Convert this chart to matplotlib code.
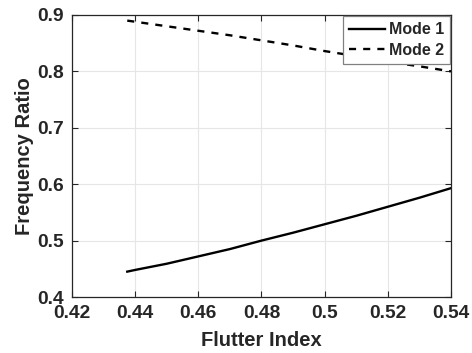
import matplotlib
matplotlib.use("Agg")
import matplotlib.pyplot as plt

flutter_index = [0.4375, 0.44, 0.45, 0.46, 0.47, 0.48, 0.49, 0.50, 0.51, 0.52, 0.53, 0.54]
mode1 = [0.445, 0.448, 0.459, 0.472, 0.485, 0.500, 0.514, 0.529, 0.544, 0.560, 0.576, 0.593]
mode2 = [0.890, 0.888, 0.880, 0.872, 0.864, 0.855, 0.846, 0.836, 0.827, 0.817, 0.809, 0.800]
xticks = [0.42, 0.44, 0.46, 0.48, 0.50, 0.52, 0.54]
xticklabels = ["0.42", "0.44", "0.46", "0.48", "0.5", "0.52", "0.54"]
yticks = [0.4, 0.5, 0.6, 0.7, 0.8, 0.9]
yticklabels = ["0.4", "0.5", "0.6", "0.7", "0.8", "0.9"]

plt.rcParams['font.family'] = ['Liberation Sans', 'DejaVu Sans']
plt.rcParams['font.weight'] = 'bold'

fig = plt.figure(figsize=(4.72, 3.53), dpi=100)
ax = fig.add_axes([0.1525, 0.1586, 0.803, 0.799])

ax.plot(flutter_index, mode1, color='black', lw=1.7, ls='-', label='Mode 1')
ax.plot(flutter_index, mode2, color='black', lw=1.7, ls=(0, (3.0, 3.0)), label='Mode 2')

ax.set_xlim(0.42, 0.54)
ax.set_ylim(0.4, 0.9)
ax.set_xticks(xticks)
ax.set_xticklabels(xticklabels)
ax.set_yticks(yticks)
ax.set_yticklabels(yticklabels)
ax.tick_params(direction='in', length=4, width=0.8, top=True, right=True,
               labelsize=13.8, pad=6, color='#262626')
for lab in ax.get_xticklabels() + ax.get_yticklabels():
    lab.set_fontweight('bold')
    lab.set_color('#262626')
ax.grid(True, color='#e6e6e6', lw=0.8)
ax.set_axisbelow(True)
for s in ax.spines.values():
    s.set_linewidth(0.9)
    s.set_color('#262626')

ax.set_xlabel('Flutter Index', fontsize=14.5, fontweight='bold', color='#262626', labelpad=6)
ax.set_ylabel('Frequency Ratio', fontsize=14.5, fontweight='bold', color='#262626', labelpad=2)

leg = ax.legend(loc='upper right', fontsize=11.5, frameon=True, fancybox=False,
                handlelength=2.2, handletextpad=0.25, borderpad=0.4, labelspacing=0.35,
                borderaxespad=0.05)
leg.get_frame().set_edgecolor('#808080')
leg.get_frame().set_linewidth(0.9)
leg.get_frame().set_alpha(1)
for t in leg.get_texts():
    t.set_fontweight('bold')
    t.set_color('#262626')

fig.savefig('out.png', dpi=100)
